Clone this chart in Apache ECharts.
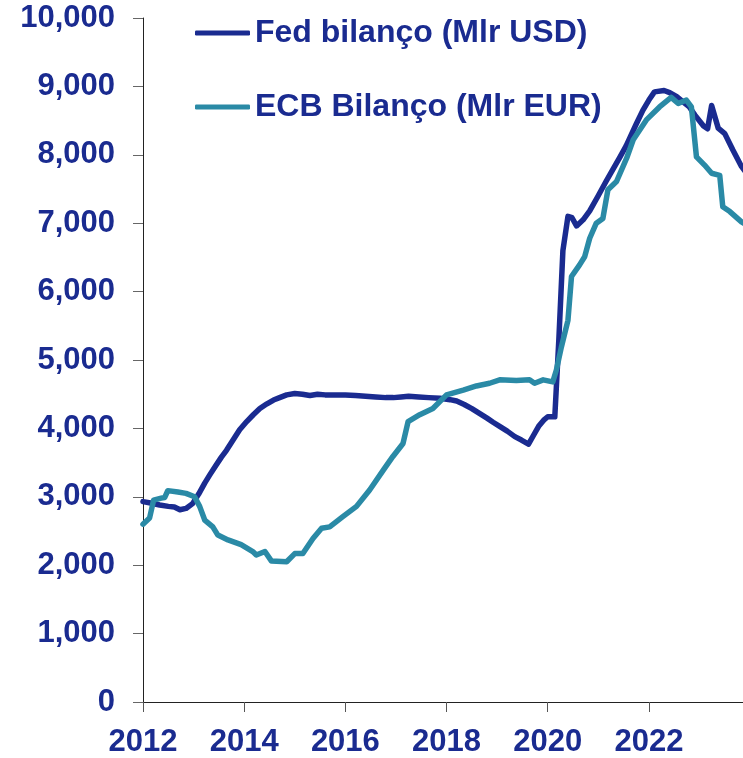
<!DOCTYPE html>
<html>
<head>
<meta charset="utf-8">
<script src="https://cdn.jsdelivr.net/npm/echarts@6/dist/echarts.min.js"></script>
<style>
  html, body { margin: 0; padding: 0; background: #fff; }
  #chart { width: 743px; height: 758px; }
</style>
</head>
<body>
<div id="chart"></div>
<script>
// years on the x axis (decimal years), values in billions
const xTicks = [2012, 2014, 2016, 2018, 2020, 2022]
const yTicks = [0, 1000, 2000, 3000, 4000, 5000, 6000, 7000, 8000, 9000, 10000]

const fedName = 'Fed bilanço (Mlr USD)'
const ecbName = 'ECB Bilanço (Mlr EUR)'

const fedYears = [
  2012.00, 2012.15, 2012.33, 2012.50, 2012.62, 2012.73, 2012.85, 2012.98, 2013.10, 2013.22,
  2013.32, 2013.45, 2013.55, 2013.65, 2013.78, 2013.91, 2014.05, 2014.18, 2014.31, 2014.45,
  2014.58, 2014.70, 2014.84, 2015.00, 2015.15, 2015.30, 2015.45, 2015.60, 2015.80, 2016.00,
  2016.20, 2016.40, 2016.60, 2016.80, 2016.95, 2017.10, 2017.25, 2017.45, 2017.65, 2017.87,
  2018.07, 2018.20, 2018.35, 2018.50, 2018.65, 2018.80, 2018.92, 2019.05, 2019.20, 2019.35,
  2019.48, 2019.62, 2019.72, 2019.82, 2019.92, 2020.00, 2020.14, 2020.22, 2020.30, 2020.40,
  2020.48, 2020.57, 2020.70, 2020.83, 2020.99, 2021.16, 2021.30, 2021.43, 2021.55, 2021.63,
  2021.75, 2021.88, 2022.00, 2022.11, 2022.30, 2022.41, 2022.55, 2022.70, 2022.80, 2022.91,
  2023.08, 2023.16, 2023.24, 2023.37, 2023.50, 2023.66, 2023.83, 2023.90
]
const fedValues = [
  2930, 2910, 2880, 2860, 2850, 2810, 2830, 2900, 3040, 3200,
  3320, 3470, 3580, 3680, 3830, 3980, 4100, 4200, 4290, 4360,
  4415, 4450, 4490, 4510, 4500, 4480, 4500, 4490, 4490, 4490,
  4480, 4470, 4460, 4450, 4450, 4460, 4470, 4460, 4450, 4440,
  4420, 4400, 4350, 4290, 4220, 4150, 4090, 4030, 3960, 3880,
  3830, 3770, 3900, 4030, 4120, 4170, 4170, 5300, 6600, 7100,
  7080, 6960, 7050, 7180, 7390, 7620, 7800, 7970, 8130, 8260,
  8450, 8650, 8800, 8920, 8940, 8910, 8850, 8760, 8700, 8580,
  8420, 8380, 8720, 8390, 8310, 8070, 7830, 7760
]

const ecbYears = [
  2012.00, 2012.13, 2012.21, 2012.36, 2012.43, 2012.49, 2012.69, 2012.85, 2013.02, 2013.12,
  2013.22, 2013.38, 2013.48, 2013.68, 2013.94, 2014.17, 2014.24, 2014.41, 2014.54, 2014.84,
  2015.00, 2015.16, 2015.36, 2015.53, 2015.69, 2015.95, 2016.22, 2016.48, 2016.75, 2016.94,
  2017.14, 2017.24, 2017.47, 2017.73, 2018.00, 2018.33, 2018.59, 2018.85, 2019.05, 2019.38,
  2019.64, 2019.74, 2019.91, 2020.10, 2020.17, 2020.27, 2020.40, 2020.47, 2020.63, 2020.73,
  2020.83, 2020.96, 2021.09, 2021.19, 2021.36, 2021.56, 2021.69, 2021.95, 2022.21, 2022.44,
  2022.58, 2022.74, 2022.84, 2022.94, 2023.10, 2023.24, 2023.40, 2023.46, 2023.60, 2023.83,
  2023.90
]
const ecbValues = [
  2600, 2690, 2950, 2980, 2990, 3090, 3070, 3050, 3000, 2860,
  2660, 2560, 2440, 2370, 2300, 2200, 2150, 2200, 2060, 2050,
  2170, 2170, 2390, 2540, 2560, 2710, 2860, 3100, 3390, 3590,
  3780, 4100, 4200, 4290, 4490, 4560, 4620, 4660, 4710, 4700,
  4710, 4660, 4710, 4680, 4850, 5190, 5580, 6220, 6390, 6510,
  6780, 7000, 7070, 7490, 7610, 7950, 8220, 8510, 8700, 8840,
  8750, 8800, 8700, 7970, 7850, 7730, 7700, 7240, 7170, 7020,
  6990
]

const navy = '#1a2b90'
const teal = '#2a8aa6'
const labelFont = 'Liberation Sans, Arial, Helvetica, sans-serif'

const zip = ( xs, ys ) => xs.map( ( x, i ) => [x, ys[i]] )

const chart = echarts.init( document.getElementById( 'chart' ) )

const legendBase = {
  left : 190,
  itemWidth : 55,
  itemHeight : 5,
  icon : 'roundRect',
  textStyle : {
    color : navy,
    fontSize : 32,
    fontWeight : 'bold',
    fontFamily : labelFont
  }
}

chart.setOption( {
  backgroundColor : '#fff',
  animation : false,
  grid : {
    left : 143,
    right : 0,
    top : 18,
    bottom : 56
  },
  legend : [
    Object.assign( {}, legendBase, { top : 12, data : [fedName] } ),
    Object.assign( {}, legendBase, { top : 86, data : [ecbName] } )
  ],
  xAxis : {
    type : 'value',
    min : xTicks[0],
    max : 2023.86,
    interval : 2,
    splitLine : { show : false },
    axisLine : { lineStyle : { color : '#222', width : 1 } },
    axisTick : {
      length : 10,
      customValues : xTicks,
      lineStyle : { color : '#555' }
    },
    axisLabel : {
      customValues : xTicks,
      margin : 25,
      color : navy,
      fontSize : 31,
      fontWeight : 'bold',
      fontFamily : labelFont,
      formatter : v => ( Number.isInteger( v ) ? String( v ) : '' )
    }
  },
  yAxis : {
    type : 'value',
    min : yTicks[0],
    max : yTicks[yTicks.length - 1],
    interval : 1000,
    splitLine : { show : false },
    axisLine : { show : true, lineStyle : { color : '#222', width : 1 } },
    axisTick : { show : true, length : 10, lineStyle : { color : '#666' } },
    axisLabel : {
      margin : 28,
      color : navy,
      fontSize : 31,
      fontWeight : 'bold',
      fontFamily : labelFont,
      formatter : v => v.toLocaleString( 'en-US' )
    }
  },
  series : [
    {
      name : fedName,
      type : 'line',
      data : zip( fedYears, fedValues ),
      showSymbol : false,
      color : navy,
      lineStyle : { width : 5.5, color : navy, cap : 'round', join : 'round' },
      z : 2
    },
    {
      name : ecbName,
      type : 'line',
      data : zip( ecbYears, ecbValues ),
      showSymbol : false,
      color : teal,
      lineStyle : { width : 5.5, color : teal, cap : 'round', join : 'round' },
      z : 3
    }
  ]
} )
</script>
</body>
</html>
